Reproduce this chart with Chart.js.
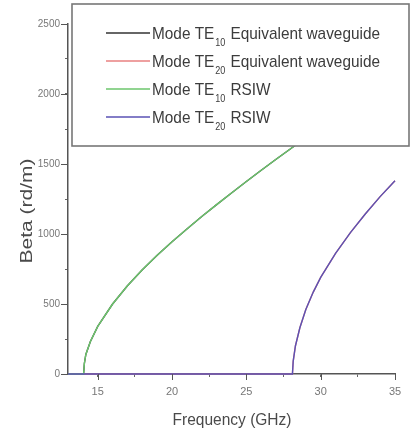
<!DOCTYPE html>
<html>
<head>
<meta charset="utf-8">
<script src="https://cdn.jsdelivr.net/npm/chart.js@4/dist/chart.umd.min.js"></script>
<style>
html,body{margin:0;padding:0;background:#fff;}
#wrap{width:411px;height:434px;position:relative;}
</style>
</head>
<body>
<div id="wrap"><canvas id="c" width="411" height="434"></canvas></div>
<script>
// Frequency (GHz) sample points and Beta (rd/m) values
const te10Freq = [13, 14.05, 14.1, 14.2, 14.5, 15, 16, 17, 18, 19, 20, 21, 22, 23, 24, 25, 26, 27, 28, 29, 30, 31, 32, 33, 34, 35];
const te10Beta = [0, 0, 75, 140, 230, 340, 500, 630, 745, 848, 945, 1036, 1125, 1210, 1293, 1375, 1455, 1534, 1611, 1688, 1764, 1838, 1911, 1984, 2058, 2134];
const te20Freq = [13, 28.1, 28.15, 28.3, 28.6, 29, 29.5, 30, 31, 32, 33, 34, 35];
const te20Beta = [0, 0, 90, 200, 330, 460, 585, 690, 862, 1010, 1143, 1267, 1380];
const xTicks = [15, 20, 25, 30, 35];
const yTicks = [0, 500, 1000, 1500, 2000, 2500];
const xTitle = 'Frequency (GHz)';
const yTitle = 'Beta (rd/m)';
const seriesNames = ['Equivalent waveguide', 'Equivalent waveguide', 'RSIW', 'RSIW'];
const seriesSubs = ['10', '20', '10', '20'];
const seriesColors = ['#333333', '#e88080', '#6cc66c', '#5a52b4'];

function pts(xs, ys){ return xs.map((x,i)=>({x:x, y:ys[i]})); }

const FONT = "'Liberation Sans', Arial, sans-serif";

const legendPlugin = {
  id: 'boxLegend',
  afterDatasetsDraw(chart){
    // lengthen major tick marks
    const ctx = chart.ctx;
    const xs = chart.scales.x, ys = chart.scales.y;
    ctx.save();
    ctx.strokeStyle = '#555';
    ctx.lineWidth = 1;
    ctx.beginPath();
    xTicks.forEach(v => { const px = Math.round(xs.getPixelForValue(v)) + 0.5; ctx.moveTo(px, ys.bottom); ctx.lineTo(px, ys.bottom + 6); });
    yTicks.forEach(v => { const py = Math.round(ys.getPixelForValue(v)) + 0.5; ctx.moveTo(xs.left, py); ctx.lineTo(xs.left - 7, py); });
    ctx.stroke();
    ctx.restore();
  },
  afterDraw(chart){
    const ctx = chart.ctx;
    ctx.save();
    // axis titles
    ctx.fillStyle = '#4a4a4a';
    ctx.textBaseline = 'middle';
    ctx.textAlign = 'center';
    ctx.font = "17px " + FONT;
    let w = ctx.measureText(xTitle).width;
    ctx.save();
    ctx.translate(232, 420);
    ctx.scale(119 / w, 1);
    ctx.fillText(xTitle, 0, 0);
    ctx.restore();
    ctx.font = "18px " + FONT;
    w = ctx.measureText(yTitle).width;
    ctx.save();
    ctx.translate(28, 211);
    ctx.rotate(-Math.PI / 2);
    ctx.scale(105 / w, 0.88);
    ctx.fillText(yTitle, 0, 0);
    ctx.restore();

    // legend box
    ctx.textAlign = 'left';
    ctx.textBaseline = 'alphabetic';
    const bx = 72, by = 4, bw = 337, bh = 142;
    ctx.fillStyle = '#ffffff';
    ctx.fillRect(bx, by, bw, bh);
    ctx.strokeStyle = '#777';
    ctx.lineWidth = 1.6;
    ctx.strokeRect(bx, by, bw, bh);
    const rowY = [33, 61, 89, 117];
    ctx.font = "17px " + FONT;
    const wTE = ctx.measureText('Mode TE').width;
    const wEq = ctx.measureText(' Equivalent waveguide').width;
    ctx.font = "10px " + FONT;
    const wSub = ctx.measureText('10').width;
    const sx = 228 / (wTE + wSub + wEq + 2);
    for (let i = 0; i < 4; i++){
      const y = rowY[i];
      ctx.strokeStyle = seriesColors[i];
      ctx.lineWidth = 1.3;
      ctx.beginPath(); ctx.moveTo(106, y); ctx.lineTo(150, y); ctx.stroke();
      ctx.fillStyle = '#3c3c3c';
      ctx.save();
      ctx.translate(152, y + 6);
      ctx.scale(sx, 1);
      let x = 0;
      ctx.font = "17px " + FONT;
      ctx.fillText('Mode TE', x, 0);
      x += wTE + 1;
      ctx.font = "10px " + FONT;
      ctx.fillText(seriesSubs[i], x, 7);
      x += wSub + 1;
      ctx.font = "17px " + FONT;
      ctx.fillText(' ' + seriesNames[i], x, 0);
      ctx.restore();
    }
    ctx.restore();
  }
};

new Chart(document.getElementById('c'), {
  type: 'scatter',
  data: {
    datasets: [
      {label:'Mode TE10 Equivalent waveguide', data: pts(te10Freq, te10Beta), borderColor: seriesColors[0], order: 3},
      {label:'Mode TE20 Equivalent waveguide', data: pts(te20Freq, te20Beta), borderColor: seriesColors[1], order: 2},
      {label:'Mode TE10 RSIW', data: pts(te10Freq, te10Beta), borderColor: seriesColors[2], order: 1},
      {label:'Mode TE20 RSIW', data: pts(te20Freq, te20Beta), borderColor: seriesColors[3], order: 0}
    ].map(d => Object.assign(d, {showLine: true, pointRadius: 0, borderWidth: 1.4, tension: 0, fill: false, clip: false}))
  },
  options: {
    responsive: false,
    animation: false,
    devicePixelRatio: 1,
    layout: {padding: {top: 24, right: 16, left: 0, bottom: 0}},
    plugins: {legend: {display: false}, tooltip: {enabled: false}},
    scales: {
      x: {
        type: 'linear', min: 13, max: 35,
        afterFit(s){ s.height = 60; },
        border: {color: '#555', width: 1.5},
        grid: {drawOnChartArea: false, tickLength: 3, color: '#666', tickWidth: 1},
        ticks: {stepSize: 2.5, includeBounds: false, padding: 8, color: '#777',
          font: {family: FONT, size: 11},
          callback: v => xTicks.includes(v) ? String(v) : ''},
        title: {display: false}
      },
      y: {
        type: 'linear', min: 0, max: 2500,
        afterFit(s){ s.width = 68; },
        border: {color: '#555', width: 1.5},
        grid: {drawOnChartArea: false, tickLength: 3, color: '#666', tickWidth: 1},
        ticks: {stepSize: 250, padding: 5, color: '#777',
          font: {family: FONT, size: 10},
          callback: v => yTicks.includes(v) ? String(v) : ''},
        title: {display: false}
      }
    }
  },
  plugins: [legendPlugin]
});
</script>
</body>
</html>
